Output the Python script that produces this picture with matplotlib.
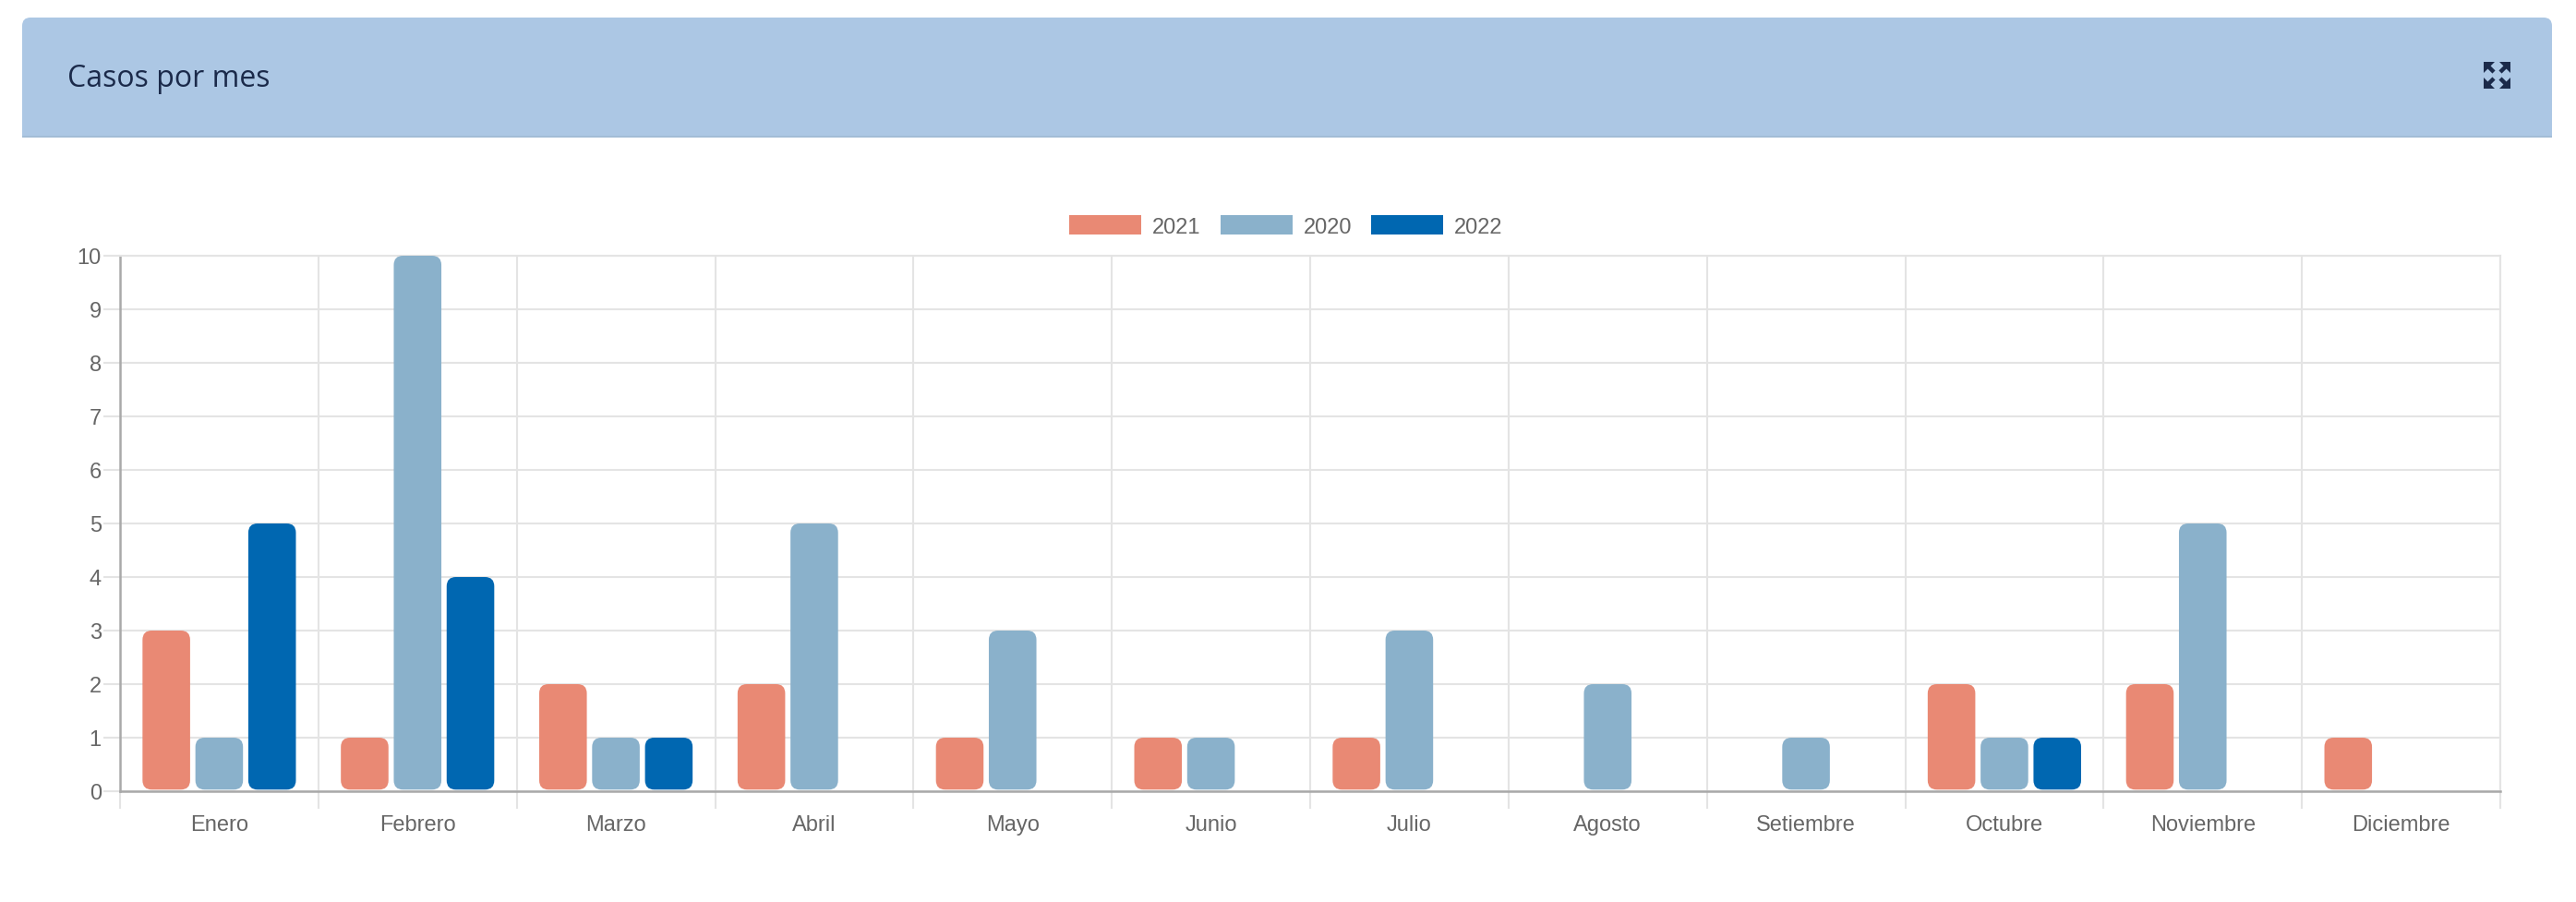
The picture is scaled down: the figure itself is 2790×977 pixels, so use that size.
import numpy as np
import matplotlib
matplotlib.use("Agg")
import matplotlib.pyplot as plt
from matplotlib.patches import FancyBboxPatch, Rectangle, Patch, Polygon
from matplotlib.lines import Line2D
from matplotlib.transforms import IdentityTransform

# datos
meses = ["Enero", "Febrero", "Marzo", "Abril", "Mayo", "Junio", "Julio",
         "Agosto", "Setiembre", "Octubre", "Noviembre", "Diciembre"]
anios = ["2021", "2020", "2022"]
casos_2021 = [3, 1, 2, 2, 1, 1, 1, 0, 0, 2, 2, 1]
casos_2020 = [1, 10, 1, 5, 3, 1, 3, 2, 1, 1, 5, 0]
casos_2022 = [5, 4, 1, 0, 0, 0, 0, 0, 0, 1, 0, 0]
colores = ["#e98974", "#8ab1cb", "#0067b1"]

W, H = 2790, 978
fig = plt.figure(figsize=(W / 100, H / 100), dpi=100)
plt.rcParams['font.family'] = ['Liberation Sans', 'DejaVu Sans']

# cabecera del panel (coordenadas en pixeles, origen arriba)
px = IdentityTransform()
def py(y):
    return H - y

cab = FancyBboxPatch((24, py(149)), 2740, 129, boxstyle="round,pad=0,rounding_size=9",
                     transform=px, facecolor="#acc7e4", edgecolor="none")
fig.add_artist(cab)
fig.add_artist(Rectangle((24, py(149)), 2740, 20, transform=px,
                         facecolor="#acc7e4", edgecolor="none"))
fig.add_artist(Rectangle((24, py(150)), 2740, 2, transform=px,
                         facecolor="#a2bcd6", edgecolor="none"))
fig.text(73 / W, 1 - 85 / H, "Casos por mes", fontsize=23, color="#1b2a4a",
         family=["Open Sans", "DejaVu Sans"], va="center", ha="left")

# icono de expandir
x0, x1, y0, y1 = 2690, 2719, 68, 97
nav = "#1b2a4a"
for cx, cy, sx, sy in [(x0, y0, 1, 1), (x1, y0, -1, 1), (x0, y1, 1, -1), (x1, y1, -1, -1)]:
    tri = Polygon([(cx, py(cy)), (cx + sx * 12, py(cy)), (cx, py(cy + sy * 12))],
                  closed=True, transform=px, facecolor=nav, edgecolor="none")
    fig.add_artist(tri)
    fig.add_artist(Line2D([cx + sx * 3, cx + sx * 11], [py(cy + sy * 3), py(cy + sy * 11)],
                          transform=px, color=nav, linewidth=3.2, solid_capstyle="butt"))

# grafico
ax = fig.add_axes([130 / W, 120 / H, 2578 / W, 580 / H])
grid_c = "#e4e4e4"
axis_c = "#a9a9a9"

n = len(meses)
pos = np.arange(n) + 0.5
slot = 0.8 / 3
ancho = slot * 0.9
series = [casos_2021, casos_2020, casos_2022]

rx = 10 / 215.0
aspect = 215.0 / 58.0
for i, (vals, col) in enumerate(zip(series, colores)):
    bars = ax.bar(pos + (i - 1) * slot, vals, width=ancho, color=col)
    for b in bars:
        x, y, w, h = b.get_x(), b.get_y(), b.get_width(), b.get_height()
        b.remove()
        if h <= 0:
            continue
        fb = FancyBboxPatch((x, y + 0.03), w, h - 0.03,
                            boxstyle="round,pad=0,rounding_size=%f" % rx,
                            mutation_aspect=aspect, facecolor=col, edgecolor="none",
                            zorder=3)
        ax.add_patch(fb)

ax.set_xlim(0, n)
ax.set_ylim(0, 10)
ax.set_yticks(range(0, 11))
ax.set_xticks(range(0, n + 1))
ax.set_xticklabels([])
ax.set_xticks(pos, minor=True)
ax.set_xticklabels(meses, minor=True)
ax.grid(True, which="major", color=grid_c, linewidth=1.5, zorder=0)
ax.set_axisbelow(True)
ax.tick_params(axis="y", length=13, width=1.5, color=grid_c, pad=1.5,
               labelsize=17, labelcolor="#666666")
ax.tick_params(axis="x", which="major", length=14, width=1.5, color=grid_c)
ax.tick_params(axis="x", which="minor", length=0, pad=18, labelsize=17,
               labelcolor="#666666")
for s in ["top", "right"]:
    ax.spines[s].set_color(grid_c)
    ax.spines[s].set_linewidth(1.5)
for s in ["left", "bottom"]:
    ax.spines[s].set_color(axis_c)
    ax.spines[s].set_linewidth(1.8)

handles = [Patch(facecolor=c, edgecolor="none", label=a) for a, c in zip(anios, colores)]
fig.legend(handles=handles, loc="center", bbox_to_anchor=(1393 / W, 1 - 246 / H),
           ncol=3, frameon=False, fontsize=17, handlelength=3.3, handleheight=1.0,
           handletextpad=0.5, columnspacing=0.9, labelcolor="#666666")

fig.savefig("out.png", dpi=100)
